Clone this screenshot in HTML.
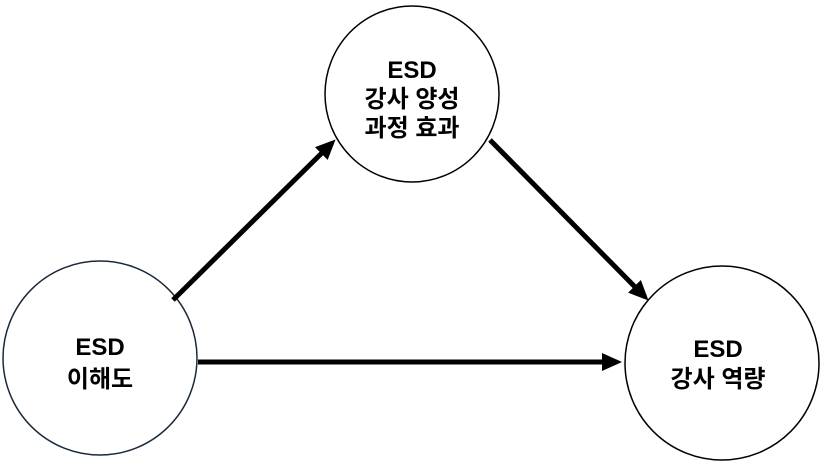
<!DOCTYPE html>
<html><head><meta charset="utf-8"><style>
html,body{margin:0;padding:0;background:#fff;}
svg{display:block;}
text{font-family:"Liberation Sans","Noto Sans CJK KR",sans-serif;font-weight:bold;font-size:24px;fill:#000;text-anchor:middle;}
</style></head><body>
<svg width="821" height="462" viewBox="0 0 821 462" xmlns="http://www.w3.org/2000/svg">
<defs>
<marker id="a" markerWidth="4" markerHeight="3.6" refX="3" refY="1.8" orient="auto" markerUnits="strokeWidth">
<path d="M0,0 L4,1.8 L0,3.6 z" fill="#000"/>
</marker>
</defs>
<ellipse cx="412" cy="94" rx="87" ry="88" fill="#fff" stroke="#000" stroke-width="1.5"/>
<ellipse cx="100" cy="358" rx="97" ry="97" fill="#fff" stroke="#1a2a3a" stroke-width="1.5"/>
<ellipse cx="722" cy="363" rx="97" ry="97" fill="#fff" stroke="#000" stroke-width="1.5"/>
<line x1="173" y1="300" x2="332" y2="143" stroke="#000" stroke-width="5" marker-end="url(#a)"/>
<line x1="490" y1="140" x2="645" y2="297" stroke="#000" stroke-width="5" marker-end="url(#a)"/>
<line x1="198" y1="362" x2="617" y2="362" stroke="#000" stroke-width="5" marker-end="url(#a)"/>
<text x="412" y="78">ESD</text>
<text x="412" y="107">강사 양성</text>
<text x="412" y="136">과정 효과</text>
<text x="100" y="355">ESD</text>
<text x="100" y="387">이해도</text>
<text x="718" y="357">ESD</text>
<text x="718" y="387">강사 역량</text>
</svg>
</body></html>
